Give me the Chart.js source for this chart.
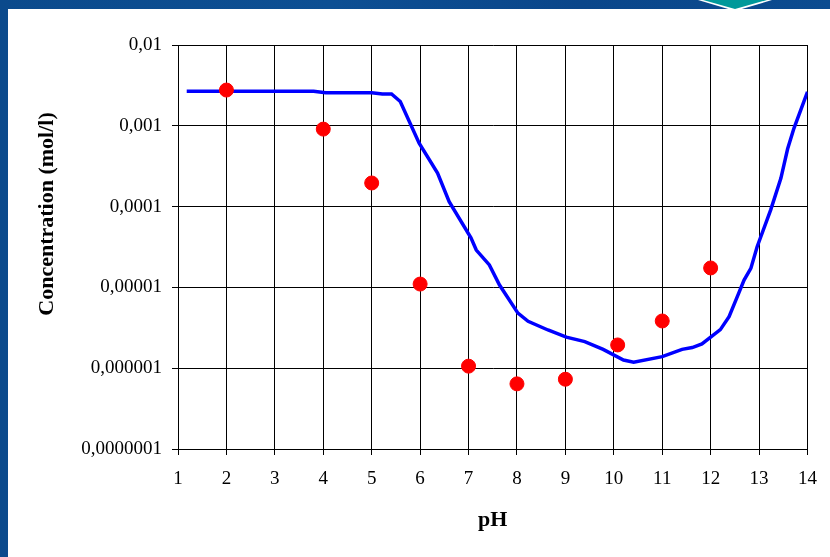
<!DOCTYPE html>
<html>
<head>
<meta charset="utf-8">
<script src="https://cdn.jsdelivr.net/npm/chart.js@4.4.1/dist/chart.umd.min.js"></script>
<style>
  html, body { margin: 0; padding: 0; }
  body { width: 830px; height: 557px; overflow: hidden; position: relative;
         background: linear-gradient(90deg, #0b4a8c, #0d4f93 40%, #0a468a 70%, #0c4c90); }
  #panel { position: absolute; left: 8px; top: 9px; width: 822px; height: 548px; background: #fff; }
  #wrap { position: absolute; left: 0; top: 0; width: 830px; height: 557px; }
  #deco { position: absolute; left: 0; top: 0; }
</style>
</head>
<body>
<div id="panel"></div>
<svg id="deco" width="830" height="12">
  <polygon points="698,0 772,0 735,11" fill="#fff"/>
  <polygon points="703,0 767,0 735,9" fill="#00999a"/>
</svg>
<div id="wrap"><canvas id="chart" width="830" height="557"></canvas></div>
<script>
// model curve (line)
const curvePH = [1.18, 3.8, 4.05, 5.0, 5.22, 5.41, 5.59, 5.98, 6.36, 6.6, 7.05, 7.16, 7.43, 7.64,
  8.02, 8.23, 8.64, 9.02, 9.4, 9.78, 10.2, 10.41, 11.0, 11.41, 11.62, 11.82, 12.2, 12.38, 12.58,
  12.69, 12.83, 12.96, 13.24, 13.45, 13.59, 13.72, 14.0];
const curveConc = [2.67e-3, 2.67e-3, 2.57e-3, 2.57e-3, 2.48e-3, 2.48e-3, 2.0e-3, 6.1e-4, 2.6e-4,
  1.15e-4, 4.1e-5, 2.9e-5, 1.9e-5, 1.07e-5, 4.8e-6, 3.8e-6, 2.97e-6, 2.42e-6, 2.13e-6, 1.71e-6,
  1.26e-6, 1.19e-6, 1.39e-6, 1.71e-6, 1.8e-6, 2.0e-6, 3.0e-6, 4.35e-6, 8.5e-6, 1.23e-5, 1.72e-5,
  3.19e-5, 9.1e-5, 2.24e-4, 5.2e-4, 9.3e-4, 2.64e-3];

// measured points
const measuredPH = [2, 4, 5, 6, 7, 8, 9, 10.08, 11, 12];
const measuredConc = [2.77e-3, 9.1e-4, 1.96e-4, 1.1e-5, 1.06e-6, 6.4e-7, 7.3e-7, 1.94e-6, 3.84e-6, 1.74e-5];

// axis ticks
const yTickValues = [1e-7, 1e-6, 1e-5, 1e-4, 1e-3, 1e-2];
const yTickLabels = ['0,0000001', '0,000001', '0,00001', '0,0001', '0,001', '0,01'];
const xTickValues = [1, 2, 3, 4, 5, 6, 7, 8, 9, 10, 11, 12, 13, 14];

const tickFont = { family: 'Liberation Serif', size: 19 };
const titleFont = { family: 'Liberation Serif', size: 22, weight: 'bold' };

new Chart(document.getElementById('chart').getContext('2d'), {
  type: 'scatter',
  data: {
    datasets: [{
      label: 'model',
      data: curvePH.map((x, i) => ({ x: x, y: curveConc[i] })),
      showLine: true,
      borderColor: '#0000ff',
      borderWidth: 3.5,
      pointRadius: 0,
      tension: 0,
      order: 2
    }, {
      label: 'measured',
      data: measuredPH.map((x, i) => ({ x: x, y: measuredConc[i] })),
      backgroundColor: '#ff0000',
      borderColor: '#ff0000',
      pointRadius: 7,
      order: 1
    }]
  },
  options: {
    responsive: false,
    animation: false,
    layout: { padding: { top: 45, right: 21, bottom: 0, left: 0 } },
    plugins: { legend: { display: false }, tooltip: { enabled: false } },
    scales: {
      x: {
        type: 'linear',
        min: 1, max: 14,
        afterBuildTicks: s => { s.ticks = xTickValues.map(v => ({ value: v })); },
        afterFit: s => { s.height = 108; },
        grid: { color: '#000', lineWidth: 1, tickLength: 6 },
        border: { color: '#000', width: 1 },
        ticks: { color: '#000', font: tickFont, padding: 13, maxRotation: 0 },
        title: { display: true, text: 'pH', color: '#000', font: titleFont, padding: { top: 0, bottom: 23 } }
      },
      y: {
        type: 'logarithmic',
        min: 1e-7, max: 1e-2,
        afterBuildTicks: s => { s.ticks = yTickValues.map(v => ({ value: v })); },
        afterFit: s => { s.width = 178; },
        grid: { color: '#000', lineWidth: 1, tickLength: 6 },
        border: { color: '#000', width: 1 },
        ticks: {
          color: '#000', font: tickFont, padding: 10,
          callback: v => yTickLabels[yTickValues.findIndex(t => Math.abs(Math.log10(t) - Math.log10(v)) < 1e-6)]
        },
        // leading spaces shift the title up, as in the original
        title: { display: true, text: '            Concentration (mol/l)', color: '#000', font: titleFont, padding: { top: 34, bottom: 0 } }
      }
    }
  }
});
</script>
</body>
</html>
